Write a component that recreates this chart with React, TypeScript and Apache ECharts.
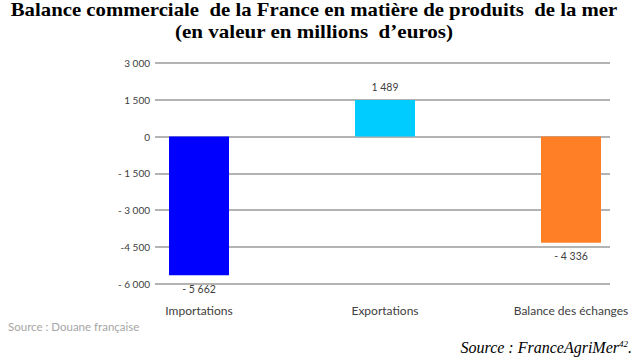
import React, { useEffect, useRef } from "react";
import * as echarts from "echarts";

const categories = ["Importations", "Exportations", "Balance des échanges"];
const values = [-5662, 1489, -4336];
const barColors = ["#0000FF", "#00CCFF", "#FF7F27"];
const yTicks = [-6000, -4500, -3000, -1500, 0, 1500, 3000];
const yTickLabels = ["- 6 000", "-4 500", "- 3 000", "- 1 500", "0", "1 500", "3 000"];
const valueLabels = ["- 5 662", "1 489", "- 4 336"];

const titleLine1 = "Balance commerciale  de la France en matière de produits  de la mer";
const titleLine2 = "(en valeur en millions  d’euros)";

export default function App() {
  const ref = useRef<HTMLDivElement>(null);
  useEffect(() => {
    document.body.style.margin = "0";
    if (!ref.current) return;
    const chart = echarts.init(ref.current, undefined, { renderer: "svg" });
    const sans = "Lato, 'Open Sans', sans-serif";
    const serif = "'Liberation Serif', 'Times New Roman', serif";
    chart.setOption({
      animation: false,
      backgroundColor: "#ffffff",
      grid: [
        { left: 155, right: 27, top: 63, bottom: 79.5 },
        { left: 199, right: 66, top: 63, bottom: 79.5 },
      ],
      xAxis: [
        { type: "category", gridIndex: 0, data: categories, show: false },
        {
          type: "category",
          gridIndex: 1,
          data: categories,
          boundaryGap: false,
          axisLine: { show: false, onZero: false },
          axisTick: { show: false },
          splitLine: { show: false },
          axisLabel: { margin: 21, fontFamily: sans, fontSize: 12, color: "#404040" },
        },
      ],
      yAxis: [
        {
          type: "value",
          gridIndex: 0,
          min: -6000,
          max: 3000,
          interval: 1500,
          axisLine: { show: false },
          axisTick: { show: false },
          splitLine: { lineStyle: { color: "#9a9a9a", width: 1.5 } },
          axisLabel: {
            margin: 5,
            fontFamily: sans,
            fontSize: 10,
            color: "#404040",
            formatter: (v: number) => {
              const i = yTicks.indexOf(v);
              return i >= 0 ? yTickLabels[i] : String(v);
            },
          },
        },
        { type: "value", gridIndex: 1, min: -6000, max: 3000, interval: 1500, show: false },
      ],
      series: [
        {
          type: "bar",
          xAxisIndex: 1,
          yAxisIndex: 1,
          barWidth: 60,
          data: values.map((v, i) => ({
            value: v,
            itemStyle: { color: barColors[i] },
            label: {
              show: true,
              position: v >= 0 ? "top" : "bottom",
              distance: 8,
              formatter: () => valueLabels[i],
              fontFamily: sans,
              fontSize: 10.5,
              color: "#404040",
            },
          })),
        },
      ],
      graphic: [
        {
          type: "text",
          x: 314,
          y: 0.5,
          scaleX: 1.155,
          style: {
            text: titleLine1,
            align: "center",
            verticalAlign: "top",
            fontFamily: serif,
            fontWeight: "bold",
            fontSize: 18,
            fill: "#000",
          },
        },
        {
          type: "text",
          x: 314,
          y: 23.5,
          scaleX: 1.17,
          style: {
            text: titleLine2,
            align: "center",
            verticalAlign: "top",
            fontFamily: serif,
            fontWeight: "bold",
            fontSize: 18,
            fill: "#000",
          },
        },
        {
          type: "text",
          x: 8,
          y: 320,
          style: { text: "Source : Douane française", fontFamily: sans, fontSize: 11.5, fill: "#a6a6a6" },
        },
        {
          type: "text",
          x: 632,
          y: 339,
          style: {
            text: "{a|Source : FranceAgriMer}{s|42}{a|.}",
            align: "right",
            verticalAlign: "top",
            rich: {
              a: { fontFamily: serif, fontStyle: "italic", fontSize: 16, fill: "#000" },
              s: { fontFamily: serif, fontStyle: "italic", fontSize: 9, fill: "#000", verticalAlign: "top", padding: [0, 0, 6, 0] },
            },
          },
        },
      ],
    });
    return () => chart.dispose();
  }, []);
  return <div ref={ref} style={{ width: 637, height: 363 }} />;
}
